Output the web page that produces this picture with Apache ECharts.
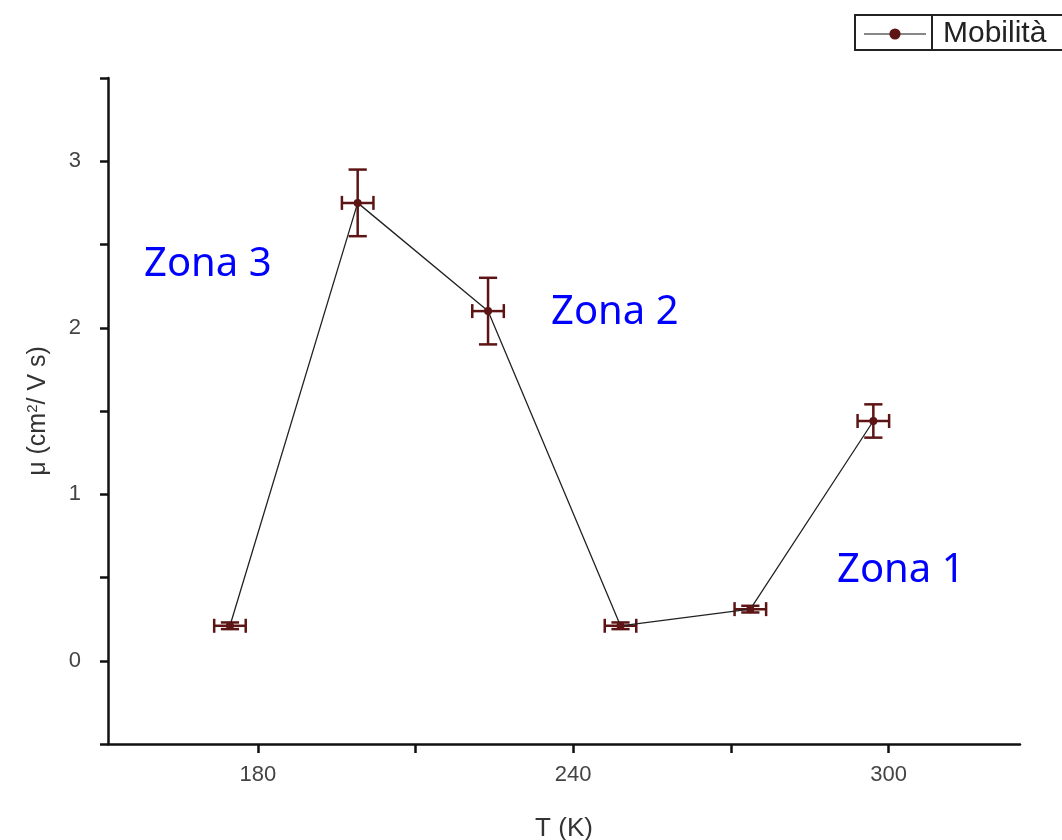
<!DOCTYPE html>
<html>
<head>
<meta charset="utf-8">
<script src="https://cdn.jsdelivr.net/npm/echarts@6/dist/echarts.min.js"></script>
<style>html,body{margin:0;padding:0;background:#fff;}#c{width:1062px;height:840px;}</style>
</head>
<body>
<div id="c"></div>
<script>
// Data
const temps = [174.7, 199.0, 223.8, 249.0, 273.7, 297.1];
const mobility = [0.21, 2.75, 2.10, 0.21, 0.31, 1.44];
const tErr = [3, 3, 3, 3, 3, 3];
const muErr = [0.02, 0.2, 0.2, 0.02, 0.02, 0.1];
const xTicks = [180, 210, 240, 270, 300];
const xLabels = [180, 240, 300];
const yLabels = [0, 1, 2, 3];
const zones = [
  {text: 'Zona 3', left: 144, top: 245},
  {text: 'Zona 2', left: 551, top: 293},
  {text: 'Zona 1', left: 837, top: 551}
];

const pts = temps.map((t, i) => [t, mobility[i]]);
const errData = temps.map((t, i) => [t, mobility[i], tErr[i], muErr[i]]);
const errColor = '#5c1414';

const chart = echarts.init(document.getElementById('c'));
chart.setOption({
  animation: false,
  backgroundColor: '#fff',
  grid: {left: 108, right: 42, top: 78, bottom: 96, outerBoundsMode: 'none', containLabel: false},
  legend: {
    data: ['Mobilità'],
    left: 855, top: 15,
    itemWidth: 62, itemHeight: 14, itemGap: 10,
    borderColor: '#222', borderWidth: 2, padding: [4, 40, 1, 8],
    textStyle: {fontSize: 30, color: '#222', fontFamily: 'Liberation Sans', padding: [0, 0, 0, 12]},
    lineStyle: {color: '#888', width: 2}
  },
  xAxis: {
    type: 'value', min: 151.5, max: 325,
    name: 'T (K)', nameLocation: 'middle', nameGap: 72,
    nameTextStyle: {fontSize: 26, color: '#333', fontFamily: 'Liberation Sans'},
    axisLine: {onZero: false, lineStyle: {color: '#111', width: 2.5}},
    axisTick: {customValues: xTicks, length: 9, lineStyle: {color: '#111', width: 2.5}},
    axisLabel: {customValues: xLabels, fontSize: 22, color: '#444', fontFamily: 'Liberation Sans', margin: 20},
    splitLine: {show: false}
  },
  yAxis: {
    type: 'value', min: -0.5, max: 3.5, interval: 0.5,
    name: 'μ (cm{sup|2}/ V s)', nameLocation: 'middle', nameGap: 56,
    nameTextStyle: {fontSize: 25, color: '#333', fontFamily: 'Liberation Sans',
      rich: {sup: {fontSize: 15, verticalAlign: 'top', padding: [0, 0, 12, 0], color: '#333', fontFamily: 'Liberation Sans'}}},
    axisLine: {show: true, lineStyle: {color: '#111', width: 2.5}},
    axisTick: {length: 8, lineStyle: {color: '#111', width: 2.5}},
    axisLabel: {customValues: yLabels, fontSize: 22, color: '#444', fontFamily: 'Liberation Sans', margin: 27},
    splitLine: {show: false}
  },
  graphic: zones.map(z => ({
    type: 'text', left: z.left, top: z.top,
    style: {text: z.text, fill: '#0000ff', fontSize: 40, fontFamily: 'Noto Sans'}
  })).concat([{
    type: 'line', shape: {x1: 932, y1: 16, x2: 932, y2: 50}, style: {stroke: '#222', lineWidth: 2}
  }]),
  series: [
    {
      name: 'Mobilità', type: 'line', data: pts,
      symbol: 'circle', symbolSize: 8,
      itemStyle: {color: errColor},
      lineStyle: {color: '#222', width: 1.3},
      z: 3
    },
    {
      name: 'err', type: 'custom', data: errData, z: 2,
      renderItem: function (params, api) {
        const x = api.value(0), y = api.value(1), dx = api.value(2), dy = api.value(3);
        const c = api.coord([x, y]);
        const l = api.coord([x - dx, y]), r = api.coord([x + dx, y]);
        const t = api.coord([x, y + dy]), b = api.coord([x, y - dy]);
        const cap = 7, st = {stroke: errColor, lineWidth: 2.5};
        return {type: 'group', children: [
          {type: 'line', shape: {x1: l[0], y1: c[1], x2: r[0], y2: c[1]}, style: st},
          {type: 'line', shape: {x1: l[0], y1: c[1] - cap, x2: l[0], y2: c[1] + cap}, style: st},
          {type: 'line', shape: {x1: r[0], y1: c[1] - cap, x2: r[0], y2: c[1] + cap}, style: st},
          {type: 'line', shape: {x1: c[0], y1: t[1], x2: c[0], y2: b[1]}, style: st},
          {type: 'line', shape: {x1: c[0] - cap * 1.3, y1: t[1], x2: c[0] + cap * 1.3, y2: t[1]}, style: st},
          {type: 'line', shape: {x1: c[0] - cap * 1.3, y1: b[1], x2: c[0] + cap * 1.3, y2: b[1]}, style: st}
        ]};
      }
    }
  ]
});
</script>
</body>
</html>
